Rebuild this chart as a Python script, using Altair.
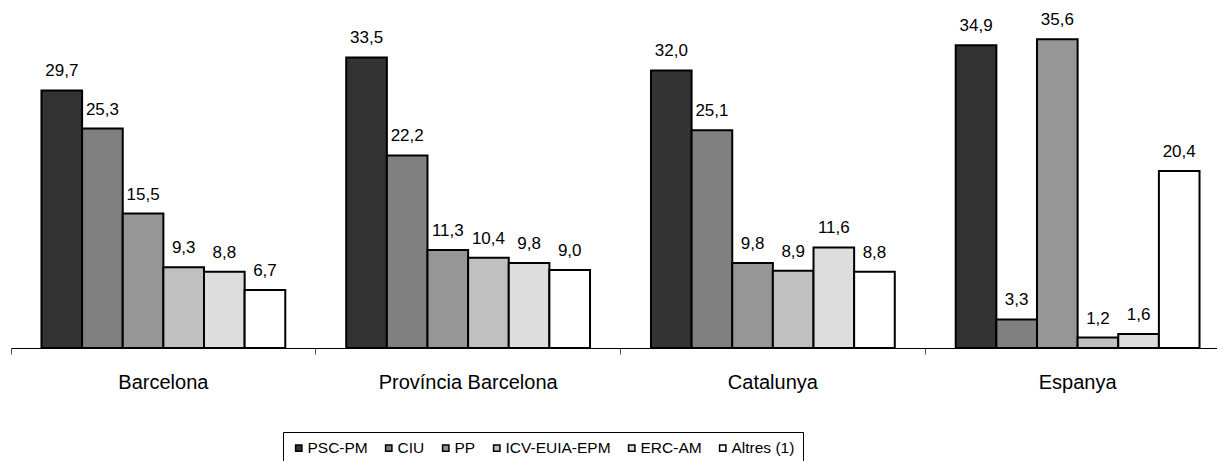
import altair as alt
import pandas as pd

regions = ["Barcelona", "Província Barcelona", "Catalunya", "Espanya"]
parties = ["PSC-PM", "CIU", "PP", "ICV-EUIA-EPM", "ERC-AM", "Altres (1)"]
colors = ["#333333", "#808080", "#969696", "#c0c0c0", "#dddddd", "#ffffff"]

barcelona = [29.7, 25.3, 15.5, 9.3, 8.8, 6.7]
provincia = [33.5, 22.2, 11.3, 10.4, 9.8, 9.0]
catalunya = [32.0, 25.1, 9.8, 8.9, 11.6, 8.8]
espanya = [34.9, 3.3, 35.6, 1.2, 1.6, 20.4]

rows = []
for reg, vals in zip(regions, [barcelona, provincia, catalunya, espanya]):
    for p, v in zip(parties, vals):
        rows.append({"region": reg, "party": p, "value": v,
                     "label": f"{v:.1f}".replace(".", ",")})
df = pd.DataFrame(rows)

FONT = "Liberation Sans"

base = alt.Chart(df).encode(
    x=alt.X("region:N", sort=regions,
            scale=alt.Scale(paddingInner=0.2, paddingOuter=0.1, range=[0, 1219]),
            axis=alt.Axis(title=None, labelAngle=0, bandPosition=-0.125, tickSize=6,
                          tickColor="#555555", tickWidth=1, domainColor="black",
                          domainWidth=1, labelFontSize=20, labelPadding=18,
                          labelColor="black", labelFont=FONT, grid=False)),
    xOffset=alt.XOffset("party:N", sort=parties,
                        scale=alt.Scale(paddingInner=0, paddingOuter=0)),
    y=alt.Y("value:Q", scale=alt.Scale(domain=[0, 39.2], nice=False), axis=None),
)

bars = base.mark_bar(stroke="black", strokeWidth=2).encode(
    color=alt.Color("party:N", sort=parties,
                    scale=alt.Scale(domain=parties, range=colors),
                    legend=alt.Legend(title=None, orient="none", legendX=272, legendY=424,
                                      direction="horizontal", strokeColor="black",
                                      padding=8, symbolType="square", symbolSize=40,
                                      symbolStrokeColor="black", symbolStrokeWidth=1.5,
                                      symbolOpacity=1, labelFontSize=15.5, labelFont=FONT,
                                      labelColor="black", labelOffset=1,
                                      columnPadding=13, columns=6))
)

text = base.mark_text(baseline="alphabetic", dy=-14, fontSize=17, font=FONT,
                      color="black").encode(text="label:N")

chart = (bars + text).properties(
    width=1206, height=340,
    padding={"left": 3, "top": 0, "right": 0, "bottom": 113},
    autosize=alt.AutoSizeParams(type="none"),
    background="white",
).configure_view(stroke=None)

chart.save("out.html", embed_options={"renderer": "svg", "actions": False})
